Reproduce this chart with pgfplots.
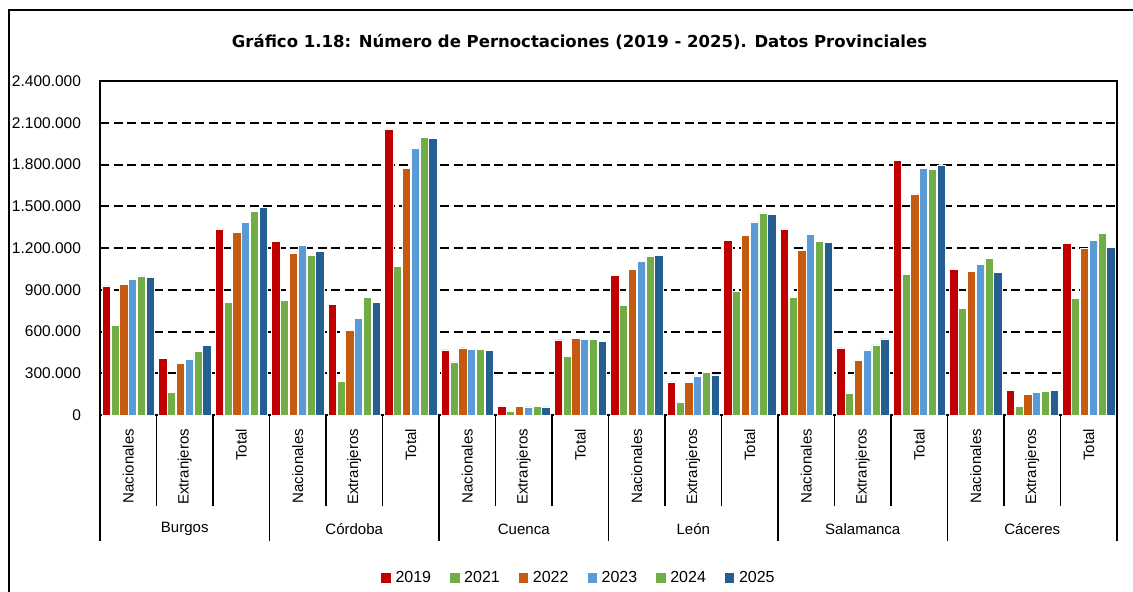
\documentclass[border=0pt]{standalone}
\usepackage{fontspec}
\setmainfont{Liberation Sans}
\newfontfamily\titlefont{DejaVu Sans}
\usepackage{pgfplots}
\pgfplotsset{compat=1.18}
\definecolor{cA}{HTML}{C00000}
\definecolor{cB}{HTML}{70AD47}
\definecolor{cC}{HTML}{C55A11}
\definecolor{cD}{HTML}{5B9BD5}
\definecolor{cE}{HTML}{70AD47}
\definecolor{cF}{HTML}{255E91}
\begin{document}
\begin{tikzpicture}
\useasboundingbox (0,0) rectangle (566.5pt,-295.5pt);
\draw[line width=1pt] (4.5pt,-300pt) -- (4.5pt,-4.75pt) -- (570pt,-4.75pt);
\node[font=\titlefont\bfseries\fontsize{8.25}{10}\selectfont, anchor=base] at (289.75pt,-23.5pt) {Gráfico 1.18: Número de Pernoctaciones (2019 - 2025). Datos Provinciales};
\begin{axis}[
  at={(50pt,-207.5pt)}, anchor=south west,
  scale only axis, width=508.5pt, height=167pt,
  clip=false,
  ybar=0.3pt, bar width=4.1pt,
  xmin=-0.5, xmax=17.5, ymin=0, ymax=2400000,
  enlargelimits=false,
  axis line style={line width=1pt, black},
  xtick={0,...,17},
  xticklabels={Nacionales,Extranjeros,Total,Nacionales,Extranjeros,Total,Nacionales,Extranjeros,Total,Nacionales,Extranjeros,Total,Nacionales,Extranjeros,Total,Nacionales,Extranjeros,Total},
  xticklabel style={rotate=90, anchor=east, font=\fontsize{7.5}{9}\selectfont, xshift=-3.5pt},
  minor xtick={-0.5,0.5,...,17.5},
  extra x ticks={-0.5,2.5,...,17.5},
  extra x tick labels={},
  extra x tick style={major tick length=63pt},
  major tick length=0pt,
  minor tick length=45.5pt,
  tick align=outside,
  xtick pos=left, ytick pos=left,
  tick style={black, line width=0.9pt},
  ytick={0,300000,...,2400000},
  yticklabels={0,300.000,600.000,900.000,1.200.000,1.500.000,1.800.000,2.100.000,2.400.000},
  scaled y ticks=false,
  yticklabel style={font=\fontsize{7.75}{9}\selectfont, xshift=-6pt},
  ymajorgrids,
  major grid style={black, line width=1pt, dash pattern=on 4.5pt off 2.3pt},
  legend image code/.code={\fill[#1] (0pt,-2.6pt) rectangle (5.2pt,2.6pt);},
  legend style={at={(0.4715,-0.488)}, anchor=center, draw=none, fill=none, legend columns=6, font=\fontsize{8}{10}\selectfont, /tikz/every even column/.append style={column sep=7pt}},
  every axis plot/.append style={draw=white, line width=0.35pt},
]
\addplot[fill=cA] coordinates {(0,928000) (1,405000) (2,1335000) (3,1250000) (4,797000) (5,2052000) (6,468000) (7,62000) (8,540000) (9,1006000) (10,238000) (11,1253000) (12,1332000) (13,482000) (14,1829000) (15,1044000) (16,178000) (17,1231000)};
\addplot[fill=cB] coordinates {(0,645000) (1,163000) (2,812000) (3,825000) (4,243000) (5,1068000) (6,382000) (7,29000) (8,420000) (9,790000) (10,89000) (11,886000) (12,845000) (13,156000) (14,1010000) (15,763000) (16,62000) (17,835000)};
\addplot[fill=cC] coordinates {(0,940000) (1,370000) (2,1313000) (3,1163000) (4,605000) (5,1773000) (6,482000) (7,60000) (8,552000) (9,1044000) (10,233000) (11,1289000) (12,1183000) (13,394000) (14,1589000) (15,1034000) (16,149000) (17,1197000)};
\addplot[fill=cD] coordinates {(0,975000) (1,402000) (2,1383000) (3,1217000) (4,695000) (5,1917000) (6,473000) (7,58000) (8,542000) (9,1102000) (10,276000) (11,1387000) (12,1296000) (13,468000) (14,1773000) (15,1082000) (16,161000) (17,1257000)};
\addplot[fill=cE] coordinates {(0,1000000) (1,460000) (2,1465000) (3,1148000) (4,842000) (5,1992000) (6,473000) (7,62000) (8,545000) (9,1138000) (10,307000) (11,1452000) (12,1250000) (13,504000) (14,1764000) (15,1123000) (16,170000) (17,1305000)};
\addplot[fill=cF] coordinates {(0,990000) (1,498000) (2,1492000) (3,1177000) (4,806000) (5,1987000) (6,463000) (7,58000) (8,530000) (9,1145000) (10,288000) (11,1440000) (12,1241000) (13,547000) (14,1797000) (15,1022000) (16,178000) (17,1207000)};
\legend{2019,2021,2022,2023,2024,2025}
\node[font=\fontsize{7.5}{9}\selectfont] at (axis cs:1,0) [yshift=-57pt] {Burgos};
\node[font=\fontsize{7.5}{9}\selectfont] at (axis cs:4,0) [yshift=-57pt] {Córdoba};
\node[font=\fontsize{7.5}{9}\selectfont] at (axis cs:7,0) [yshift=-57pt] {Cuenca};
\node[font=\fontsize{7.5}{9}\selectfont] at (axis cs:10,0) [yshift=-57pt] {León};
\node[font=\fontsize{7.5}{9}\selectfont] at (axis cs:13,0) [yshift=-57pt] {Salamanca};
\node[font=\fontsize{7.5}{9}\selectfont] at (axis cs:16,0) [yshift=-57pt] {Cáceres};
\end{axis}
\end{tikzpicture}
\end{document}
